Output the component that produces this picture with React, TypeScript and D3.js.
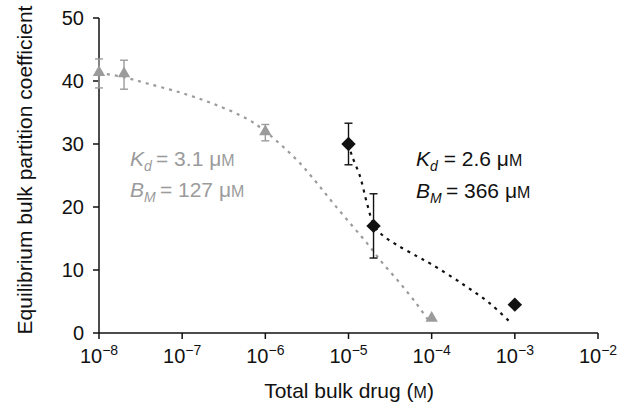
import React, { useEffect, useRef } from 'react';
import * as d3 from 'd3';

// measured points (x in molar, y = partition coefficient)
const grayX = [1e-8, 2e-8, 1e-6, 1e-4];
const grayY = [41.2, 41.0, 31.8, 2.2];
const grayErr = [2.3, 2.3, 1.3, 0];

const blackX = [1e-5, 2e-5, 1e-3];
const blackY = [30.0, 17.0, 4.5];
const blackErr = [3.3, 5.1, 0];

// fitted curves (log10 of concentration, value)
const grayFitLog = [-8, -7.7, -7.42, -7.03, -6.63, -6.22, -6.0, -5.79, -5.58, -5.38, -5.19, -4.98, -4.78, -4.59, -4.38, -4.18, -4.05];
const grayFitY = [41.3, 40.6, 39.6, 38.2, 36.4, 34.0, 32.0, 29.6, 26.9, 23.8, 20.7, 17.4, 14.3, 11.1, 7.9, 4.6, 2.2];

const blackFitLog = [-5.0, -4.96, -4.86, -4.78, -4.69, -4.58, -4.42, -4.18, -4.0, -3.62, -3.3, -3.04];
const blackFitY = [30.0, 28.2, 24.8, 20.7, 17.0, 15.4, 14.0, 12.2, 10.9, 7.7, 4.7, 1.5];

const yTicks = [0, 10, 20, 30, 40, 50];
const xTickExps = [-8, -7, -6, -5, -4, -3, -2];

const GRAY = '#9b9b9b';
const BLACK = '#111';
const FONT = '"Liberation Sans", Arial, Helvetica, sans-serif';

const App = () => {
  const ref = useRef<SVGSVGElement | null>(null);

  useEffect(() => {
    if (!ref.current) return;
    const svg = d3.select(ref.current);
    svg.selectAll('*').remove();

    const x = d3.scaleLog().domain([1e-8, 1e-2]).range([99, 598]);
    const y = d3.scaleLinear().domain([0, 50]).range([333, 18]);

    const g = svg.append('g').style('font-family', FONT);

    // axes
    g.append('line').attr('x1', 99).attr('x2', 99).attr('y1', y(50)).attr('y2', y(0))
      .attr('stroke', BLACK).attr('stroke-width', 1.5);
    g.append('line').attr('x1', 99).attr('x2', 598).attr('y1', y(0)).attr('y2', y(0))
      .attr('stroke', BLACK).attr('stroke-width', 1.5);

    yTicks.forEach(t => {
      g.append('line').attr('x1', 93).attr('x2', 99).attr('y1', y(t)).attr('y2', y(t))
        .attr('stroke', BLACK).attr('stroke-width', 1.5);
      g.append('text').attr('x', 84).attr('y', y(t)).attr('dy', '0.36em')
        .attr('text-anchor', 'end').style('font-size', '20px').attr('fill', BLACK).text(t);
    });

    xTickExps.forEach(e => {
      const px = x(Math.pow(10, e));
      g.append('line').attr('x1', px).attr('x2', px).attr('y1', y(0)).attr('y2', y(0) + 6)
        .attr('stroke', BLACK).attr('stroke-width', 1.5);
      const t = g.append('text').attr('x', px).attr('y', 363)
        .attr('text-anchor', 'middle').style('font-size', '20px').attr('fill', BLACK);
      t.append('tspan').text('10');
      t.append('tspan').attr('dy', -8).style('font-size', '14px').text(`\u2212${-e}`);
    });

    // axis titles
    const xt = g.append('text').attr('x', 349).attr('y', 398).attr('text-anchor', 'middle')
      .style('font-size', '21px').attr('fill', BLACK);
    xt.append('tspan').text('Total bulk drug (');
    xt.append('tspan').style('font-size', '16px').text('M');
    xt.append('tspan').text(')');

    g.append('text').attr('transform', 'translate(32,170) rotate(-90)').attr('text-anchor', 'middle')
      .style('font-size', '21px').attr('fill', BLACK).text('Equilibrium bulk partition coefficient');

    // fit curves
    const line = d3.line<[number, number]>()
      .x(d => x(Math.pow(10, d[0])))
      .y(d => y(d[1]))
      .curve(d3.curveCatmullRom);

    g.append('path')
      .attr('d', line(grayFitLog.map((v, i) => [v, grayFitY[i]] as [number, number])))
      .attr('fill', 'none').attr('stroke', GRAY).attr('stroke-width', 2.2)
      .attr('stroke-dasharray', '3,5');

    g.append('path')
      .attr('d', line(blackFitLog.map((v, i) => [v, blackFitY[i]] as [number, number])))
      .attr('fill', 'none').attr('stroke', BLACK).attr('stroke-width', 2.2)
      .attr('stroke-dasharray', '3,5');

    // error bars
    const errBars = (xs: number[], ys: number[], es: number[], color: string) => {
      xs.forEach((xv, i) => {
        if (!es[i]) return;
        const px = x(xv);
        const y1 = y(ys[i] + es[i]);
        const y2 = y(ys[i] - es[i]);
        g.append('line').attr('x1', px).attr('x2', px).attr('y1', y1).attr('y2', y2)
          .attr('stroke', color).attr('stroke-width', 1.4);
        [y1, y2].forEach(yy => {
          g.append('line').attr('x1', px - 4).attr('x2', px + 4).attr('y1', yy).attr('y2', yy)
            .attr('stroke', color).attr('stroke-width', 1.4);
        });
      });
    };
    errBars(grayX, grayY, grayErr, GRAY);
    errBars(blackX, blackY, blackErr, BLACK);

    // markers
    const tri = d3.symbol().type(d3.symbolTriangle).size(66);
    grayX.forEach((xv, i) => {
      g.append('path').attr('d', tri()).attr('fill', GRAY)
        .attr('transform', `translate(${x(xv)},${y(grayY[i]) - 1})`);
    });
    const sq = d3.symbol().type(d3.symbolSquare).size(104);
    blackX.forEach((xv, i) => {
      g.append('path').attr('d', sq()).attr('fill', BLACK)
        .attr('transform', `translate(${x(xv)},${y(blackY[i])}) rotate(45)`);
    });

    // annotations
    const annot = (ax: number, ay: number, sub: string, rest: string, color: string, sym: string) => {
      const t = g.append('text').attr('x', ax).attr('y', ay).style('font-size', '21px').attr('fill', color);
      t.append('tspan').style('font-style', 'italic').text(sym);
      t.append('tspan').attr('dy', 5).style('font-style', 'italic').style('font-size', '14px').text(sub);
      t.append('tspan').attr('dy', -5).text(rest);
      t.append('tspan').text('\u03bc');
      t.append('tspan').style('font-size', '16px').text('M');
    };
    annot(130, 166, 'd', '\u2009= 3.1 ', GRAY, 'K');
    annot(130, 197, 'M', '\u2009= 127 ', GRAY, 'B');
    annot(416, 166, 'd', '  = 2.6 ', BLACK, 'K');
    annot(416, 198, 'M', '\u2009= 366 ', BLACK, 'B');
  }, []);

  return (
    <div style={{ position: 'fixed', left: 0, top: 0, width: 626, height: 406, background: '#fff' }}>
      <svg ref={ref} width={626} height={406} style={{ display: 'block' }} />
    </div>
  );
};

export default App;
